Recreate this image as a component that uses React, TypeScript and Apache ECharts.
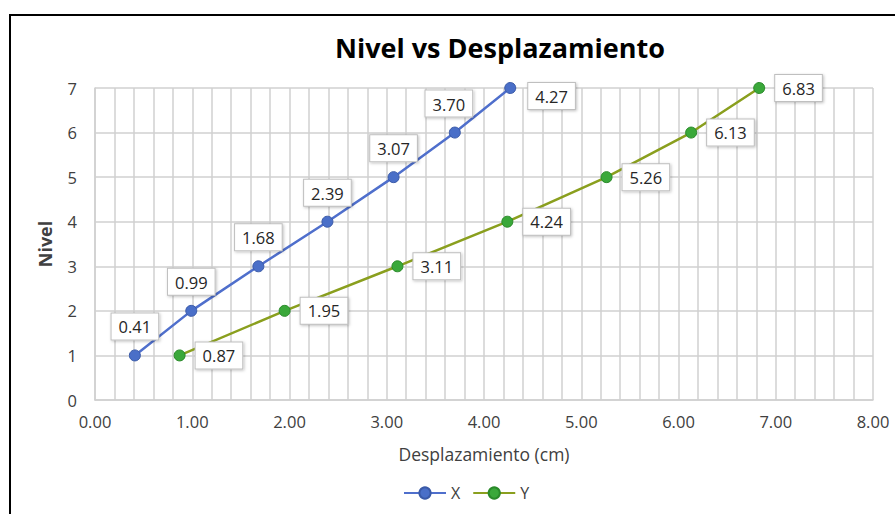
import React, { useEffect, useRef } from "react";
import * as echarts from "echarts";

// Nivel (storey) vs lateral displacement (cm) in both directions
const niveles = [1, 2, 3, 4, 5, 6, 7];
const despX = [0.41, 0.99, 1.68, 2.39, 3.07, 3.7, 4.27];
const despY = [0.87, 1.95, 3.11, 4.24, 5.26, 6.13, 6.83];

const FONT = "'Open Sans', 'Liberation Sans', sans-serif";
const TXT = "#404040";
const GRID = "#d0d0d0";

const boxLabel = {
  show: true,
  color: "#262626",
  fontFamily: FONT,
  fontSize: 16.5,
  backgroundColor: "#ffffff",
  borderColor: "#bfbfbf",
  borderWidth: 1,
  padding: [5, 7, 4, 7],
  shadowBlur: 3,
  shadowColor: "rgba(0,0,0,0.25)",
  shadowOffsetX: 1,
  shadowOffsetY: 1,
  formatter: (p: any) => Number(p.value[0]).toFixed(2),
};

export default function App() {
  const ref = useRef<HTMLDivElement>(null);

  useEffect(() => {
    if (!ref.current) return;
    const chart = echarts.init(ref.current, undefined, { renderer: "svg" });

    const xData = despX.map((d, i) => {
      const last = i === despX.length - 1;
      return {
        value: [d, niveles[i]],
        label: last
          ? { position: "right", distance: 12, offset: [0, 8] }
          : { position: "top", distance: 10, offset: [i === 5 ? -6 : 0, 0] },
      };
    });
    const yData = despY.map((d, i) => ({ value: [d, niveles[i]] }));

    chart.setOption({
      animation: false,
      backgroundColor: "#ffffff",
      title: {
        text: "Nivel vs Desplazamiento",
        left: 330,
        top: 29,
        textStyle: { fontFamily: FONT, fontSize: 27, fontWeight: "bold", color: "#000000" },
      },
      graphic: [
        {
          type: "rect",
          shape: { x: 10, y: 15, width: 1200, height: 1200 },
          style: { fill: "none", stroke: "#000000", lineWidth: 2 },
          silent: true,
        },
      ],
      legend: {
        left: 398,
        top: 480,
        itemWidth: 42,
        itemHeight: 14,
        itemGap: 12,
        textStyle: { fontFamily: FONT, fontSize: 16, color: TXT },
        data: ["X", "Y"],
      },
      grid: { left: 95, right: 22, top: 88, bottom: 114 },
      xAxis: {
        type: "value",
        min: 0,
        max: 8,
        interval: 1,
        name: "Desplazamiento (cm)",
        nameLocation: "middle",
        nameGap: 45,
        nameTextStyle: { fontFamily: FONT, fontSize: 17.5, color: TXT },
        axisLine: { show: true, lineStyle: { color: GRID, width: 1.5 } },
        axisTick: { show: false },
        axisLabel: {
          fontFamily: FONT,
          fontSize: 16.5,
          color: TXT,
          margin: 13,
          formatter: (v: number) => v.toFixed(2),
        },
        splitLine: { show: true, lineStyle: { color: GRID, width: 1.5 } },
        minorTick: { show: false, splitNumber: 5 },
        minorSplitLine: { show: true, lineStyle: { color: GRID, width: 1.5 } },
      },
      yAxis: {
        type: "value",
        min: 0,
        max: 7,
        interval: 1,
        name: "Nivel",
        nameLocation: "middle",
        nameGap: 41,
        nameRotate: 90,
        nameTextStyle: { fontFamily: FONT, fontSize: 18, fontWeight: "bold", color: TXT },
        axisLine: { show: true, lineStyle: { color: GRID, width: 1.5 } },
        axisTick: { show: false },
        axisLabel: { fontFamily: FONT, fontSize: 16.5, color: TXT, margin: 18 },
        splitLine: { show: true, lineStyle: { color: GRID, width: 1.5 } },
      },
      series: [
        {
          name: "X",
          type: "line",
          data: xData,
          symbol: "circle",
          symbolSize: 11,
          lineStyle: { color: "#4f6fcc", width: 2.5 },
          itemStyle: { color: "#4a6fc8", borderColor: "#3a5aa8", borderWidth: 1 },
          label: boxLabel,
          z: 3,
        },
        {
          name: "Y",
          type: "line",
          data: yData,
          symbol: "circle",
          symbolSize: 11,
          lineStyle: { color: "#8a9f1e", width: 2.5 },
          itemStyle: { color: "#3aa83a", borderColor: "#2a8a2a", borderWidth: 1 },
          label: { ...boxLabel, position: "right", distance: 10 },
          z: 3,
        },
      ],
    });

    return () => chart.dispose();
  }, []);

  return (
    <div
      ref={ref}
      style={{ position: "fixed", left: 0, top: 0, width: 895, height: 514 }}
    />
  );
}
